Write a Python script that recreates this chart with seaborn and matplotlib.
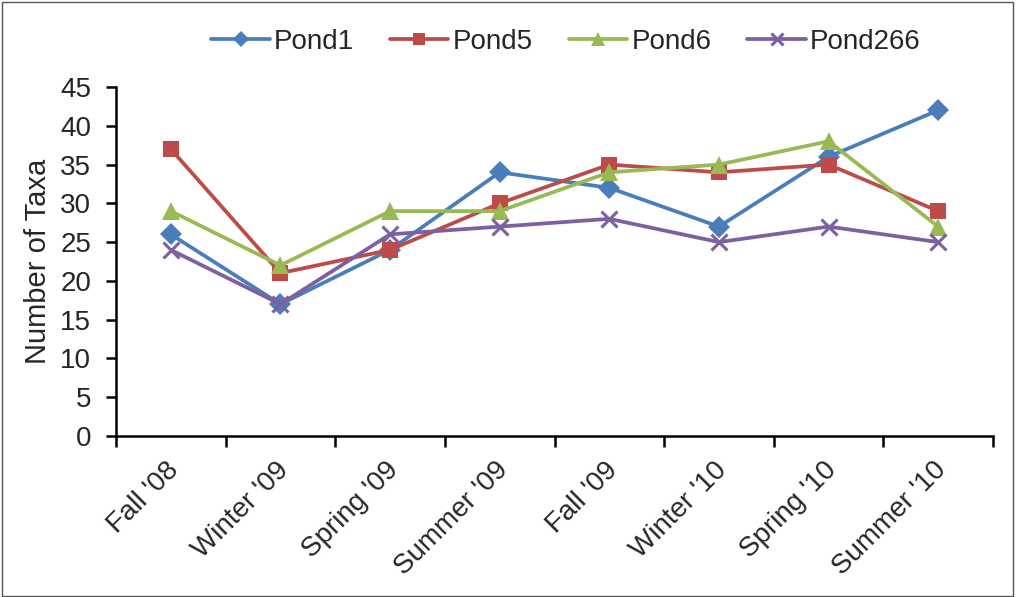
import matplotlib
matplotlib.use("Agg")
import matplotlib.pyplot as plt
from matplotlib.patches import Rectangle
from matplotlib.transforms import ScaledTranslation
import seaborn as sns
import pandas as pd

seasons = ["Fall '08", "Winter '09", "Spring '09", "Summer '09",
           "Fall '09", "Winter '10", "Spring '10", "Summer '10"]
pond1 = [26, 17, 24, 34, 32, 27, 36, 42]
pond5 = [37, 21, 24, 30, 35, 34, 35, 29]
pond6 = [29, 22, 29, 29, 34, 35, 38, 27]
pond266 = [24, 17, 26, 27, 28, 25, 27, 25]

series_names = ["Pond1", "Pond5", "Pond6", "Pond266"]
series_values = [pond1, pond5, pond6, pond266]
colors = ["#4A7EBB", "#BE4B48", "#98B954", "#7D60A0"]
markers = ["D", "s", "^", "x"]
marker_sizes = [11, 12, 13, 11.5]

sns.set_theme(style="white")
plt.rcParams["font.family"] = ["Liberation Sans", "DejaVu Sans"]

fig = plt.figure(figsize=(10.16, 5.97), dpi=100)
ax = fig.add_axes([116 / 1016, 161 / 597, 877 / 1016, 349 / 597])

for name, vals, color, marker, ms in zip(series_names, series_values, colors,
                                         markers, marker_sizes):
    df = pd.DataFrame({"pos": range(len(seasons)), "Taxa": vals})
    mew = 2.2 if marker == "x" else 0
    sns.lineplot(data=df, x="pos", y="Taxa", color=color, marker=marker,
                 markersize=ms, markeredgewidth=mew, markeredgecolor=color,
                 markerfacecolor=color, linewidth=2.7, label=name, sort=False,
                 ax=ax)

ax.set_xlim(-0.5, len(seasons) - 0.5)
ax.set_ylim(0, 45)
ax.set_yticks(range(0, 46, 5))
ax.set_xticks(range(len(seasons)))
ax.set_xticklabels(seasons, rotation=45, ha="right", rotation_mode="anchor")
ax.set_xticks([i - 0.5 for i in range(len(seasons) + 1)], minor=True)
ax.tick_params(axis="x", which="major", length=0, pad=15, labelsize=20)
ax.tick_params(axis="x", which="minor", length=8, width=1.8, direction="out",
               color="black", bottom=True)
ax.tick_params(axis="y", length=7, width=1.8, direction="out", color="black",
               left=True, labelsize=20, pad=11)
shift = ScaledTranslation(-5 / 100, 0, fig.dpi_scale_trans)
for lbl in ax.get_xticklabels():
    lbl.set_transform(lbl.get_transform() + shift)
ax.set_xlabel("")
ax.set_ylabel("Number of Taxa", fontsize=21, labelpad=6)

for side in ("top", "right"):
    ax.spines[side].set_visible(False)
for side in ("left", "bottom"):
    ax.spines[side].set_color("black")
    ax.spines[side].set_linewidth(1.8)

handles, labels = ax.get_legend_handles_labels()
ax.legend(handles, labels, loc="center", bbox_to_anchor=(566 / 1016, 1 - 42 / 597),
          bbox_transform=fig.transFigure, ncol=4, frameon=False, fontsize=20,
          handlelength=2.1, handletextpad=0.15, columnspacing=1.3,
          markerscale=0.75)

fig.patches.append(Rectangle((0.002, 0.002), 0.995, 0.994, transform=fig.transFigure,
                             fill=False, edgecolor="#555555", linewidth=1.0))

fig.savefig("out.png", dpi=100)
